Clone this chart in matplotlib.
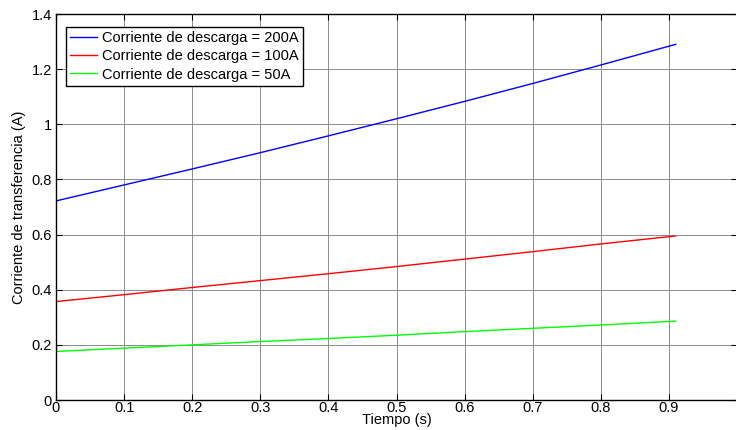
import matplotlib
matplotlib.use("Agg")
import matplotlib.pyplot as plt

plt.rcParams['font.family'] = ['Liberation Sans', 'DejaVu Sans']

tiempo = [0.0, 0.0, 0.1, 0.2, 0.3, 0.4, 0.5, 0.6, 0.7, 0.8, 0.91]
i_200 = [0.0, 0.722, 0.780, 0.838, 0.897, 0.958, 1.020, 1.083, 1.148, 1.215, 1.290]
i_100 = [0.0, 0.357, 0.382, 0.408, 0.433, 0.458, 0.484, 0.511, 0.538, 0.566, 0.595]
i_50 = [0.0, 0.176, 0.188, 0.200, 0.212, 0.223, 0.235, 0.248, 0.260, 0.272, 0.286]
labels = ["Corriente de descarga = 200A", "Corriente de descarga = 100A", "Corriente de descarga = 50A"]
xticks = [0, 0.1, 0.2, 0.3, 0.4, 0.5, 0.6, 0.7, 0.8, 0.9]
yticks = [0, 0.2, 0.4, 0.6, 0.8, 1.0, 1.2, 1.4]
ytick_labels = ["0", "0.2", "0.4", "0.6", "0.8", "1", "1.2", "1.4"]

fig = plt.figure(figsize=(7.36, 4.30), dpi=100)
ax = fig.add_axes([56/736, 30/430, 681/736, 386/430])

ax.plot(tiempo, i_200, color='#0000ff', lw=1.0, label=labels[0])
ax.plot(tiempo, i_100, color='#ff0000', lw=1.0, label=labels[1])
ax.plot(tiempo, i_50, color='#00ff00', lw=1.0, label=labels[2])

ax.set_xlim(0, 1)
ax.set_ylim(0, 1.4)
ax.set_xticks(xticks)
ax.set_xticklabels([("%g" % v) for v in xticks])
ax.set_yticks(yticks)
ax.set_yticklabels(ytick_labels)
ax.tick_params(direction='in', top=True, right=True, labelsize=10.5, length=4)
ax.tick_params(axis='x', pad=0.5)
ax.tick_params(axis='y', pad=3)
ax.grid(True, color='#8c8c8c', linestyle='-', linewidth=0.7)
for s in ax.spines.values():
    s.set_linewidth(1.0)
    s.set_color('black')

ax.set_xlabel("Tiempo (s)", fontsize=10.5, va='center')
ax.xaxis.set_label_coords(0.5, -0.053)
ax.set_ylabel("Corriente de transferencia (A)", fontsize=10.5, labelpad=4)

leg = ax.legend(loc='upper left', bbox_to_anchor=(0.0147, 0.9663), fontsize=10.5,
                frameon=True, fancybox=False, edgecolor='black', framealpha=1,
                borderpad=0.3, labelspacing=0.28, handlelength=1.85, handletextpad=0.35,
                borderaxespad=0)
leg.get_frame().set_linewidth(1.0)

fig.savefig("out.png", dpi=100)
